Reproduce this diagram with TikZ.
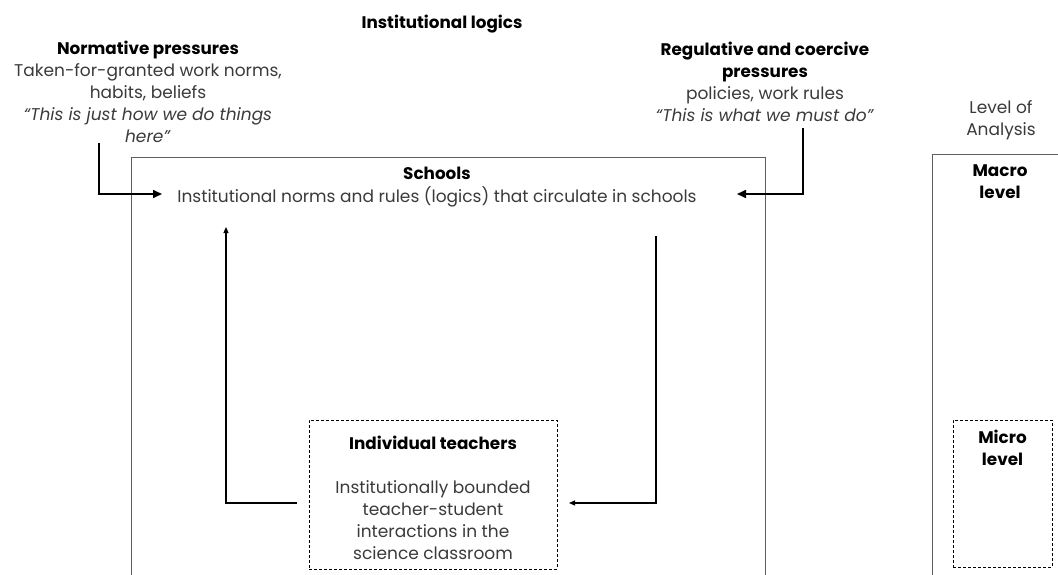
\documentclass[tikz,border=0pt]{standalone}
\usepackage{fontspec}
\setmainfont{Poppins}
\usetikzlibrary{arrows.meta}
\definecolor{txt}{HTML}{3A3A3A}
\definecolor{framegray}{HTML}{5E5E5E}
\begin{document}
\begin{tikzpicture}[x=1pt,y=-1pt,
  lbl/.style={align=center, text=txt, inner sep=0pt, anchor=north,
              font=\fontsize{17}{22}\selectfont},
  hd/.style={align=center, text=black, inner sep=0pt, anchor=north,
             font=\bfseries\fontsize{16.8}{22}\selectfont},
  bigarrow/.style={draw=black, line width=1.6pt, -{Triangle[length=9pt,width=8pt]}},
  thinarrow/.style={draw=black, line width=1.1pt, -{Triangle[length=6pt,width=5pt]}},
  solidframe/.style={draw=framegray, line width=1pt},
  dashframe/.style={draw=black, line width=0.8pt, dash pattern=on 3pt off 2pt}]
\useasboundingbox (0,0) rectangle (1058,575);
\clip (0,0) rectangle (1058,575);

% heading
\node[hd] (logics) at (442,15) {Institutional logics};

% the two kinds of pressure
\node[lbl] (norm) at (148,41)
  {\textbf{\textcolor{black}{\fontsize{16.8}{22}\selectfont Normative pressures}}\\
   Taken-for-granted work norms,\\
   habits, beliefs\\
   \textit{“This is just how we do things}\\
   \textit{here”}};
\node[lbl] (reg) at (765,42)
  {\textbf{\textcolor{black}{\fontsize{16.8}{22}\selectfont Regulative and coercive}}\\
   \textbf{\textcolor{black}{\fontsize{16.8}{22}\selectfont pressures}}\\
   policies, work rules\\
   \textit{“This is what we must do”}};
\node[lbl] (level) at (1001,100) {Level of\\Analysis};

% schools frame (open at the bottom)
\draw[solidframe] (131,580) -- (131,158) -- (765,158) -- (765,580);
\node[hd] (schools) at (437,167) {Schools};
\node[lbl, anchor=center] (logicsbody) at (437,197)
  {Institutional norms and rules (logics) that circulate in schools};

% individual teachers
\node[dashframe, minimum width=248pt, minimum height=149pt, inner sep=0pt]
  (teach) at (433,494.5) {};
\node[hd] (teachhd) at (433,436) {Individual teachers};
\node[lbl] (teachbody) at (433,480)
  {Institutionally bounded\\teacher-student\\interactions in the\\science classroom};

% levels of analysis
\draw[solidframe] (932,580) -- (932,155) -- (1062,155);
\node[hd] (macro) at (1000,165) {Macro\\level};
\node[dashframe, minimum width=99pt, minimum height=147pt, inner sep=0pt]
  (microbox) at (1002.5,493.5) {};
\node[hd] (micro) at (1002.5,430) {Micro\\level};

% arrow end points
\coordinate (nstart) at (99,143);
\coordinate (nend) at (162,194);
\coordinate (rstart) at (803,128);
\coordinate (rend) at (737,194);
\coordinate (upstart) at (297,503);
\coordinate (upend) at (226,227);
\coordinate (downstart) at (656,236);
\coordinate (downend) at (569,503);

\draw[bigarrow] (nstart) |- (nend);
\draw[bigarrow] (rstart) |- (rend);
\draw[thinarrow] (upstart) -| (upend);
\draw[thinarrow] (downstart) |- (downend);
\end{tikzpicture}
\end{document}
